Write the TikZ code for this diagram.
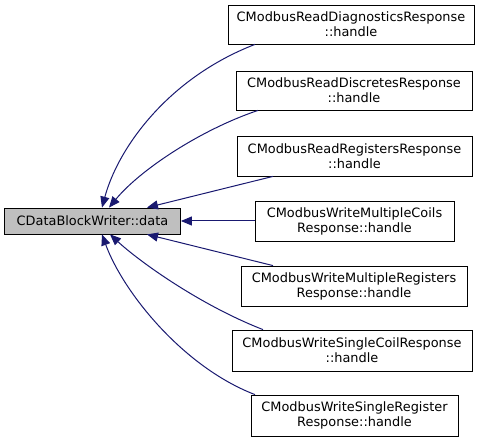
\documentclass[tikz,border=0pt]{standalone}
\usepackage{fontspec}
\setmainfont{DejaVu Sans}
\usetikzlibrary{arrows.meta}
\definecolor{edgeblue}{HTML}{191970}
\definecolor{nodegray}{HTML}{BFBFBF}
\tikzset{
  fnode/.style={draw=black, line width=0.8pt, fill=white, rectangle, inner sep=0pt, align=center,
    font=\fontsize{12.9}{15}\selectfont},
  edgeline/.style={draw=edgeblue, line width=1pt, {Triangle[length=11pt,width=9pt]}-},
}
\begin{document}
\begin{tikzpicture}[x=1pt,y=-1pt]
\useasboundingbox (0,0) rectangle (485,443);
\node[fnode, fill=nodegray, minimum width=176pt, minimum height=26pt] (L) at (92.5,221) {CDataBlockWriter::data};
\node[fnode, minimum width=246pt, minimum height=39pt] (n1) at (351,24.5) {CModbusReadDiagnosticsResponse\\::handle};
\node[fnode, minimum width=236pt, minimum height=39pt] (n2) at (354,90.5) {CModbusReadDiscretesResponse\\::handle};
\node[fnode, minimum width=235pt, minimum height=40pt] (n3) at (354.5,156) {CModbusReadRegistersResponse\\::handle};
\node[fnode, minimum width=199pt, minimum height=40pt] (n4) at (354.5,221) {CModbusWriteMultipleCoils\\Response::handle};
\node[fnode, minimum width=226pt, minimum height=40pt] (n5) at (354,286) {CModbusWriteMultipleRegisters\\Response::handle};
\node[fnode, minimum width=240pt, minimum height=41pt] (n6) at (352,350.5) {CModbusWriteSingleCoilResponse\\::handle};
\node[fnode, minimum width=207pt, minimum height=41pt] (n7) at (354.5,415.5) {CModbusWriteSingleRegister\\Response::handle};

\draw[edgeline] ([xshift=9.5pt]L.north) .. controls (118,148) and (168,78) .. ([xshift=-96pt]n1.south);
\draw[edgeline] ([xshift=16.5pt]L.north) .. controls (140,170) and (200,130) .. ([xshift=-96pt]n2.south);
\draw[edgeline] ([xshift=54.5pt]L.north) -- ([xshift=-81.5pt]n3.south);
\draw[edgeline] (L.east) -- (n4.west);
\draw[edgeline] ([xshift=54.5pt]L.south) -- ([xshift=-81pt]n5.north);
\draw[edgeline] ([xshift=17.5pt]L.south) .. controls (140,262) and (200,305) .. ([xshift=-89pt]n6.north);
\draw[edgeline] ([xshift=9.5pt]L.south) .. controls (123,292) and (183,367) .. ([xshift=-99.5pt]n7.north);
\end{tikzpicture}
\end{document}
